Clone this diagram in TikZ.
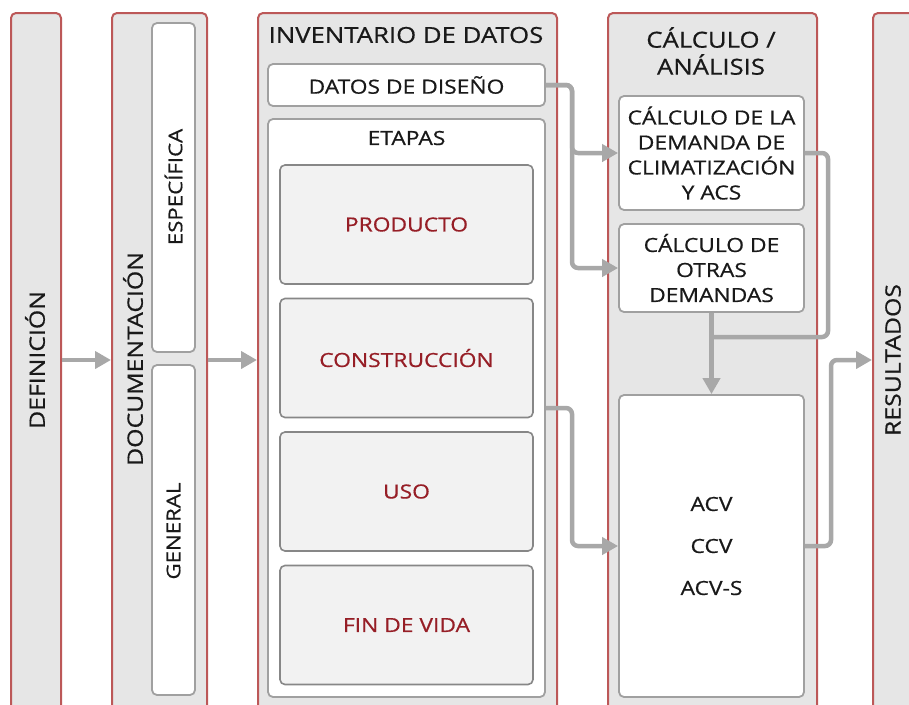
\documentclass[tikz,border=0pt]{standalone}
\usepackage{fontspec}
\setmainfont{Open Sans}[FakeStretch=1.17,FakeBold=0.6]
\usetikzlibrary{arrows.meta,calc}
\definecolor{colfill}{RGB}{230,230,230}
\definecolor{colline}{RGB}{188,88,88}
\definecolor{boxline}{RGB}{160,160,160}
\definecolor{stageline}{RGB}{135,135,135}
\definecolor{stagefill}{RGB}{242,242,242}
\definecolor{redtext}{RGB}{150,30,38}
\definecolor{darktext}{RGB}{25,25,25}
\definecolor{arrgray}{RGB}{168,168,168}
\begin{document}
\begin{tikzpicture}[x=1pt,y=-1pt,
  colbox/.style={draw=colline, line width=2pt, fill=colfill, rounded corners=5pt, anchor=north west, minimum height=760pt, inner sep=0pt},
  whitebox/.style={draw=boxline, line width=1.8pt, fill=white, rounded corners=5pt, inner sep=0pt, text=darktext, font=\fontsize{19.5}{25}\selectfont, align=center},
  stagebox/.style={draw=stageline, line width=1.6pt, fill=stagefill, rounded corners=5pt, inner sep=0pt, text=redtext, font=\fontsize{19.5}{24}\selectfont, minimum width=253pt, minimum height=119pt},
  lbl/.style={text=darktext, font=\fontsize{19.5}{25}\selectfont, align=center, inner sep=0pt},
  vlbl/.style={text=darktext, font=\fontsize{19}{25}\selectfont, align=center, inner sep=0pt, rotate=90},
  big/.style={text=darktext, font=\fontsize{22}{27}\selectfont, align=center, inner sep=0pt},
  vbig/.style={text=darktext, font=\fontsize{21.2}{27}\selectfont, align=center, inner sep=0pt, rotate=90},
  conn/.style={draw=arrgray, line width=4.5pt, rounded corners=6pt},
  arr/.style={conn, -{Triangle[length=16pt,width=17pt]}}
]
\useasboundingbox (0,0) rectangle (909,704);
\clip (0,0) rectangle (909,704);

% columns
\node[colbox, minimum width=50pt] (def) at (10,12) {};
\node[colbox, minimum width=95pt] (doc) at (111,12) {};
\node[colbox, minimum width=299pt] (inv) at (257,12) {};
\node[colbox, minimum width=209pt] (calc) at (607,12) {};
\node[colbox, minimum width=80pt] (res) at (872,12) {};

% column labels
\node[vbig] (deflbl) at (35,360) {DEFINICIÓN};
\node[vbig] (doclbl) at (133,359) {DOCUMENTACIÓN};
\node[vbig] (reslbl) at (893,360) {RESULTADOS};
\node[big] (invlbl) at (406,35) {INVENTARIO DE DATOS};
\node[big] (calclbl) at (711,51) {CÁLCULO /\\ANÁLISIS};

% documentation
\node[whitebox, minimum width=43pt, minimum height=329pt] (esp) at (173.5,187.5) {};
\node[whitebox, minimum width=43pt, minimum height=330pt] (gen) at (173.5,530) {};
\node[vlbl] (esplbl) at (173.5,187) {ESPECÍFICA};
\node[vlbl] (genlbl) at (173.5,531) {GENERAL};

% inventory
\node[whitebox, minimum width=277pt, minimum height=42pt] (datos) at (406.5,85) {DATOS DE DISEÑO};
\node[whitebox, minimum width=277pt, minimum height=578pt] (etapas) at (406.5,408) {};
\node[lbl] (etapaslbl) at (406.5,138) {ETAPAS};
\node[stagebox] (prod) at (406.5,224.5) {PRODUCTO};
\node[stagebox] (constr) at (406.5,358) {CONSTRUCCIÓN};
\node[stagebox] (uso) at (406.5,491.5) {USO};
\node[stagebox] (fin) at (406.5,625) {FIN DE VIDA};

% calculation
\node[whitebox, minimum width=185pt, minimum height=114pt] (box1) at (711.5,153) {CÁLCULO DE LA\\DEMANDA DE\\CLIMATIZACIÓN\\Y ACS};
\node[whitebox, minimum width=185pt, minimum height=88pt] (box2) at (711.5,268) {CÁLCULO DE\\OTRAS\\DEMANDAS};
\node[whitebox, minimum width=185pt, minimum height=302pt, font=\fontsize{19.5}{42}\selectfont] (box3) at (711.5,546) {ACV\\CCV\\ACV-S};

% helper coordinates
\coordinate (jx) at (572,0);
\coordinate (kx) at (828,0);
\coordinate (rx) at (831,0);
\coordinate (midy) at (0,360);
\coordinate (jy) at (0,337);
\coordinate (cy) at (0,408);

% connectors
\draw[arr] (def.east |- midy) -- (doc.west |- midy);
\draw[arr] (doc.east |- midy) -- (inv.west |- midy);
\draw[arr] (datos.east) -| (jx |- box1.west) -- (box1.west);
\draw[arr] (datos.east) -| (jx |- box2.west) -- (box2.west);
\draw[arr] (etapas.east |- cy) -| (jx |- box3.west) -- (box3.west);
\draw[conn] (box1.east) -| (kx |- jy) -- (box2.south |- jy);
\draw[arr] (box2.south) -- (box3.north);
\draw[arr] (box3.east) -| (rx |- midy) -- (res.west |- midy);
\end{tikzpicture}
\end{document}
